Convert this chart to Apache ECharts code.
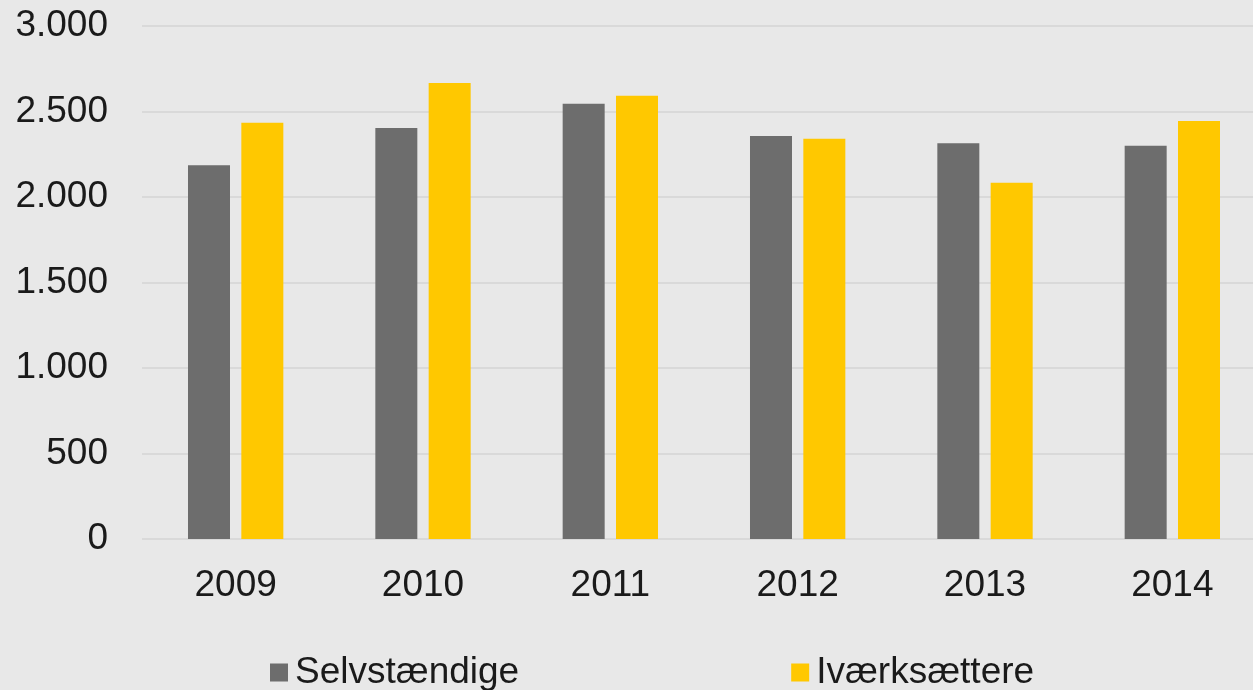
<!DOCTYPE html>
<html>
<head>
<meta charset="utf-8">
<script src="https://cdn.jsdelivr.net/npm/echarts@6/dist/echarts.min.js"></script>
<style>
    html, body { margin: 0; padding: 0; background: #e8e8e8; }
    #diogram { width: 1253px; height: 690px; }
</style>
</head>
<body>
<div id="diogram"></div>
<script>
let years = ['2009', '2010', '2011', '2012', '2013', '2014'];
let selvstaendige = [2186, 2403, 2545, 2356, 2315, 2299];
let ivaerksaettere = [2434, 2666, 2592, 2340, 2083, 2444];
let yTicks = [0, 500, 1000, 1500, 2000, 2500, 3000];

// tal med punktum som tusindtalsskilletegn
function fmt(v) {
    return String(v).replace(/\B(?=(\d{3})+(?!\d))/g, '.');
}

let diogram = document.getElementById("diogram");
let myDiogram = echarts.init(diogram);

let font = 'Liberation Sans, Arial, sans-serif';

let option = {
    backgroundColor: '#e8e8e8',
    animation: false,
    grid: {
        left: 142,
        width: 1124,
        top: 26,
        bottom: 151,
        outerBoundsMode: 'none'
    },
    legend: {
        left: 265,
        top: 649,
        itemWidth: 18,
        itemHeight: 18,
        itemGap: 272,
        icon: 'rect',
        textStyle: {
            fontFamily: font,
            fontSize: 37,
            color: '#1a1a1a',
            padding: [0, 0, 0, 2]
        }
    },
    xAxis: {
        type: 'category',
        data: years,
        axisLine: { show: false },
        axisTick: { show: false },
        axisLabel: {
            margin: 28,
            fontFamily: font,
            fontSize: 37,
            color: '#1a1a1a'
        }
    },
    yAxis: {
        type: 'value',
        min: yTicks[0],
        max: yTicks[yTicks.length - 1],
        interval: 500,
        axisLine: { show: false },
        axisTick: { show: false },
        splitLine: { lineStyle: { color: '#d9d9d9', width: 2 } },
        axisLabel: {
            margin: 34,
            fontFamily: font,
            fontSize: 37,
            color: '#1a1a1a',
            formatter: fmt
        }
    },
    series: [
        {
            name: 'Selvstændige',
            type: 'bar',
            color: '#6d6d6d',
            barWidth: 42,
            barGap: '27%',
            data: selvstaendige
        },
        {
            name: 'Iværksættere',
            type: 'bar',
            color: '#ffc800',
            barWidth: 42,
            barGap: '27%',
            data: ivaerksaettere
        }
    ]
};

myDiogram.setOption(option);
</script>
</body>
</html>
